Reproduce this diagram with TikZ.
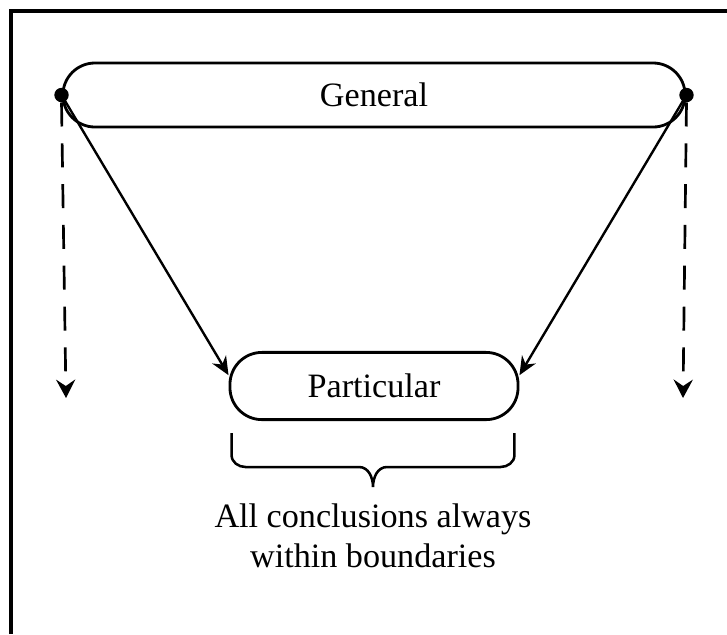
\documentclass[tikz,border=0pt]{standalone}
\usepackage{fontspec}
\setmainfont{Liberation Serif}
\usetikzlibrary{arrows.meta,positioning,calc}
\tikzset{
  capsbox/.style={draw, line width=2pt, rounded corners=#1, align=center,
    font=\fontsize{24.3}{28.5}\selectfont, inner sep=0pt},
  capsbox/.default=0.8cm,
  flujo/.style={-{Stealth[length=4.6mm, width=4mm]}, line width=1.7pt},
  bajada/.style={-{Stealth[length=4.6mm, width=4.8mm, inset=1.6mm]}, line width=1.9pt,
    dash pattern=on 0.6cm off 0.42cm},
  punto/.style={circle, fill, inner sep=0pt, minimum size=0.36cm},
  marco/.style={line width=2.6pt},
}
\begin{document}
\begin{tikzpicture}[x=0.025cm, y=-0.025cm]
    \useasboundingbox (0,0) rectangle (727,634);
    % marco abierto (solo arriba e izquierda)
    \draw[marco] (11,634) -- (11,11) -- (727,11);

    \node[capsbox, minimum width=15.55cm, minimum height=1.6cm] (gen) at (374,95) {General};
    \node[capsbox, minimum width=7.2cm, minimum height=1.68cm] (part) at (374,386) {Particular};

    \node[punto] (pl) at (gen.west) {};
    \node[punto] (pr) at (gen.east) {};

    \draw[flujo] (pl.center) -- ([yshift=0.27cm]part.west);
    \draw[flujo] (pr.center) -- ([yshift=0.27cm]part.east);

    \coordinate (finl) at (66,398);
    \coordinate (finr) at (683,398);
    \draw[bajada] (pl.south) -- (finl);
    \draw[bajada] (pr.south) -- (finr);

    % llave bajo el nodo particular
    \coordinate (lla) at ($(part.south west)+(3,12)$);
    \coordinate (llb) at ($(part.south east)+(-5,12)$);
    \coordinate (punta) at ($(lla)!0.5!(llb)+(0,54)$);
    \draw[line width=1.8pt]
      (lla) -- ++(0,22) to[out=-90,in=180] ++(14,12)
      -- ($(punta)+(-14,-20)$) to[out=0,in=90] (punta)
      to[out=90,in=180] ($(punta)+(14,-20)$)
      -- ($(llb)+(-14,34)$) to[out=0,in=-90] ++(14,-12) -- (llb);

    \node[font=\fontsize{24.3}{28.5}\selectfont, align=center, below=0.3cm of punta]
      (concl) {All conclusions always\\within boundaries};
\end{tikzpicture}
\end{document}
